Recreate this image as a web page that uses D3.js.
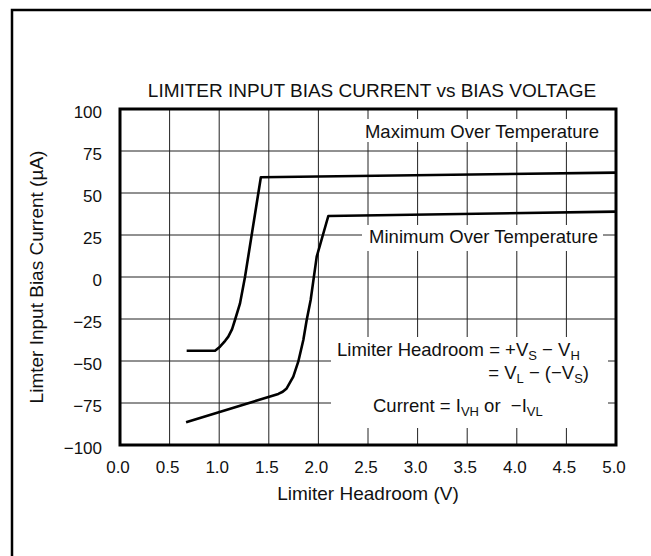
<!DOCTYPE html>
<html>
<head>
<meta charset="utf-8">
<script src="https://cdn.jsdelivr.net/npm/d3@7"></script>
<style>
  body { margin: 0; background: #fff; }
  text { font-family: "Liberation Sans", Arial, Helvetica, sans-serif; fill: #111; }
</style>
</head>
<body>
<svg width="651" height="556"></svg>
<script>
var svg = d3.select("svg"),
    width = +svg.attr("width"),
    height = +svg.attr("height");

// data
var xTicks = [0, 0.5, 1, 1.5, 2, 2.5, 3, 3.5, 4, 4.5, 5];
var yTicks = [-100, -75, -50, -25, 0, 25, 50, 75, 100];
var maxV = [0.672, 0.958, 1.008, 1.06, 1.092, 1.13, 1.159, 1.21, 1.26, 1.42, 5.0];
var maxI = [-43.9, -43.9, -41.5, -38, -35.5, -31, -25.6, -15.7, 0, 59.4, 62.1];
var minV = [0.666, 1.596, 1.64, 1.68, 1.747, 1.797, 1.848, 1.882, 1.922, 1.983, 2.1, 5.0];
var minI = [-86.5, -69.6, -68.3, -66.3, -59.3, -50.4, -37.5, -25.6, -13.7, 12.1, 36.3, 38.9];

var margin = { left: 120, right: 35, top: 109, bottom: 111 };
var x = d3.scaleLinear().domain([0, 5]).range([margin.left, width - margin.right]);
var y = d3.scaleLinear().domain([-100, 100]).range([height - margin.bottom, margin.top]);

// outer frame (only top/left visible)
svg.append("rect")
    .attr("x", 12).attr("y", 10)
    .attr("width", 700).attr("height", 700)
    .attr("fill", "none").attr("stroke", "#000").attr("stroke-width", 2.5);

// title
svg.append("text")
    .attr("x", (x(0) + x(5)) / 2 + 4).attr("y", 97)
    .attr("text-anchor", "middle")
    .style("font-size", "19px")
    .text("LIMITER INPUT BIAS CURRENT vs BIAS VOLTAGE");

// grid
var grid = svg.append("g").attr("stroke", "#222").attr("stroke-width", 1);
grid.selectAll("line.v").data(xTicks.slice(1, -1)).enter().append("line")
    .attr("x1", function (d) { return x(d); }).attr("x2", function (d) { return x(d); })
    .attr("y1", y(100)).attr("y2", y(-100));
grid.selectAll("line.h").data(yTicks.slice(1, -1)).enter().append("line")
    .attr("x1", x(0)).attr("x2", x(5))
    .attr("y1", function (d) { return y(d); }).attr("y2", function (d) { return y(d); });

// white boxes behind annotations
var boxes = [
    [358, 119, 248, 23],
    [362, 225, 241, 26],
    [331, 337, 277, 91]
];
svg.selectAll("rect.box").data(boxes).enter().append("rect")
    .attr("x", function (d) { return d[0]; }).attr("y", function (d) { return d[1]; })
    .attr("width", function (d) { return d[2]; }).attr("height", function (d) { return d[3]; })
    .attr("fill", "#fff");

// plot frame
svg.append("rect")
    .attr("x", x(0)).attr("y", y(100))
    .attr("width", x(5) - x(0)).attr("height", y(-100) - y(100))
    .attr("fill", "none").attr("stroke", "#000").attr("stroke-width", 3);

// axes labels
svg.selectAll("text.xt").data(xTicks).enter().append("text")
    .attr("x", function (d) { return x(d) - 2; }).attr("y", y(-100) + 28)
    .attr("text-anchor", "middle").style("font-size", "17px")
    .text(function (d) { return d.toFixed(1); });
svg.selectAll("text.yt").data(yTicks).enter().append("text")
    .attr("x", 102).attr("y", function (d) { return y(d) + 9; })
    .attr("text-anchor", "end").style("font-size", "17px")
    .text(function (d) { return d < 0 ? "\u2212" + (-d) : d; });

svg.append("text")
    .attr("x", (x(0) + x(5)) / 2).attr("y", 500)
    .attr("text-anchor", "middle").style("font-size", "19px")
    .text("Limiter Headroom (V)");
svg.append("text")
    .attr("transform", "translate(43," + ((y(100) + y(-100)) / 2) + ") rotate(-90)")
    .attr("text-anchor", "middle").style("font-size", "19px")
    .text("Limter Input Bias Current (\u00b5A)");

// curves
var line = d3.line()
    .x(function (d) { return x(d[0]); })
    .y(function (d) { return y(d[1]); });
var series = [d3.zip(maxV, maxI), d3.zip(minV, minI)];
svg.selectAll("path.curve").data(series).enter().append("path")
    .attr("d", line)
    .attr("fill", "none").attr("stroke", "#000")
    .attr("stroke-width", 2.6).attr("stroke-linejoin", "round");

// annotations
svg.append("text").attr("x", 599).attr("y", 138)
    .attr("text-anchor", "end").style("font-size", "18.5px")
    .text("Maximum Over Temperature");
svg.append("text").attr("x", 598).attr("y", 243)
    .attr("text-anchor", "end").style("font-size", "18.5px")
    .text("Minimum Over Temperature");

function sub(t, parts) {
    parts.forEach(function (p, i) {
        var ts = t.append("tspan").text(p[0]);
        if (i > 0 && parts[i - 1][1]) ts.attr("dy", -4);
        if (p[1]) t.append("tspan").attr("dy", 4).style("font-size", "13px").text(p[1]);
    });
}
var t1 = svg.append("text").attr("x", 337).attr("y", 356).style("font-size", "18.5px");
sub(t1, [["Limiter Headroom = +V", "S"], [" \u2212 V", "H"]]);
var t2 = svg.append("text").attr("x", 589).attr("y", 379).attr("text-anchor", "end").style("font-size", "18.5px");
sub(t2, [["= V", "L"], [" \u2212 (\u2212V", "S"], [")", null]]);
var t3 = svg.append("text").attr("x", 373).attr("y", 412).style("font-size", "18.5px");
sub(t3, [["Current = I", "VH"], [" or \u00a0\u2212I", "VL"]]);
</script>
</body>
</html>
